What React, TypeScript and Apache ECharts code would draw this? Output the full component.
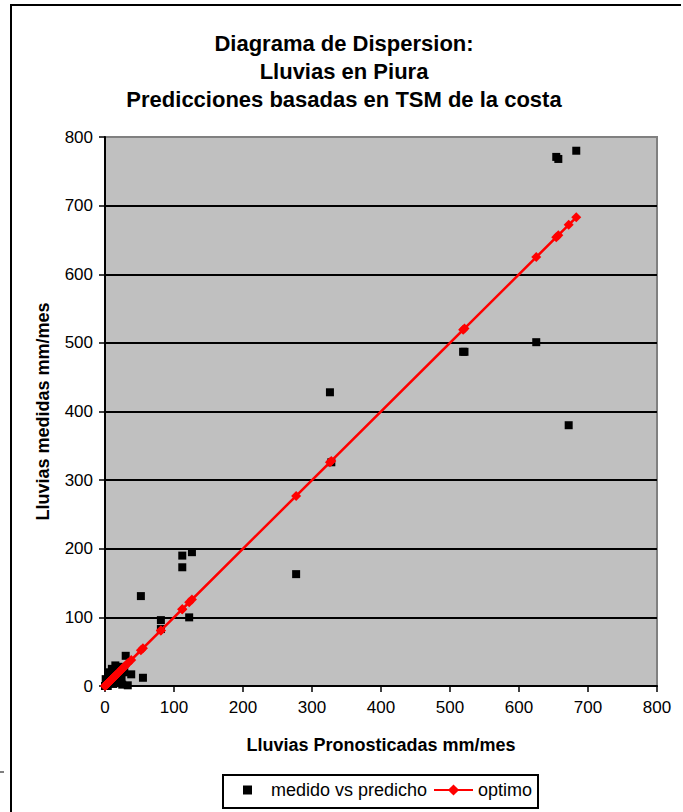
import React, { useEffect, useRef } from "react";
import * as echarts from "echarts";

// Lluvias pronosticadas (predicho) y medidas, en orden de los datos
const predicho: number[] = [
  2, 5, 8, 10, 0, 12, 15, 326, 18, 1, 20, 22, 3, 25, 28, 4, 30, 33, 6, 38,
  14, 52, 16, 55, 24, 81, 81, 112, 277, 519, 625, 654, 657, 683, 672, 112,
  122, 126, 328, 9, 13, 521,
];
const medido: number[] = [
  5, 20, 12, 25, 0, 3, 30, 428, 8, 10, 28, 15, 2, 2, 20, 0, 44, 1, 18, 17,
  22, 131, 5, 12, 10, 96, 83, 190, 163, 487, 501, 771, 768, 780, 380, 173,
  100, 195, 326, 14, 6, 487,
];

const xTicks = { min: 0, max: 800, interval: 100 };
const yTicks = { min: 0, max: 800, interval: 100 };

const tituloLineas = [
  "Diagrama de Dispersion:",
  "Lluvias en Piura",
  "Predicciones basadas en TSM de la costa",
];
const nombreX = "Lluvias Pronosticadas mm/mes";
const nombreY = "Lluvias medidas mm/mes";
const serieMedido = "medido vs predicho";
const serieOptimo = "optimo";

const FONT = "'Liberation Sans', Arial, Helvetica, sans-serif";

export default function App() {
  const ref = useRef<HTMLDivElement>(null);

  useEffect(() => {
    document.body.style.margin = "0";
    if (!ref.current) return;
    const chart = echarts.init(ref.current, undefined, { renderer: "svg" });

    const scatterData = predicho.map((p, i) => [p, medido[i]]);
    const optimoData = predicho.map((p) => [p, p]);

    const legendText = { fontFamily: FONT, fontSize: 18, color: "#000" };

    chart.setOption({
      animation: false,
      backgroundColor: "#ffffff",
      textStyle: { fontFamily: FONT },
      title: {
        text: tituloLineas.join("\n"),
        left: 339,
        top: 24,
        textAlign: "center",
        textStyle: {
          fontFamily: FONT,
          fontSize: 22,
          fontWeight: "bold",
          color: "#000",
          lineHeight: 28,
        },
      },
      grid: {
        left: 105,
        top: 137,
        width: 552,
        height: 549,
        show: true,
        backgroundColor: "#c0c0c0",
        borderColor: "#808080",
        borderWidth: 2,
      },
      xAxis: {
        type: "value",
        min: xTicks.min,
        max: xTicks.max,
        interval: xTicks.interval,
        name: nombreX,
        nameLocation: "middle",
        nameGap: 50,
        nameTextStyle: {
          fontFamily: FONT,
          fontSize: 18,
          fontWeight: "bold",
          color: "#000",
        },
        axisLine: { show: true, onZero: false, lineStyle: { color: "#000", width: 2 } },
        axisTick: { show: true, inside: false, length: 6, lineStyle: { color: "#000", width: 1.5 } },
        axisLabel: { fontFamily: FONT, fontSize: 17, color: "#000", margin: 13 },
        splitLine: { show: false },
      },
      yAxis: {
        type: "value",
        min: yTicks.min,
        max: yTicks.max,
        interval: yTicks.interval,
        name: nombreY,
        nameLocation: "middle",
        nameGap: 53,
        nameRotate: 90,
        nameTextStyle: {
          fontFamily: FONT,
          fontSize: 18,
          fontWeight: "bold",
          color: "#000",
        },
        axisLine: { show: true, onZero: false, lineStyle: { color: "#000", width: 2 } },
        axisTick: { show: true, inside: false, length: 6, lineStyle: { color: "#000", width: 1.5 } },
        axisLabel: { fontFamily: FONT, fontSize: 17, color: "#000", margin: 12 },
        splitLine: {
          show: true,
          lineStyle: {
            color: ["#000", "#000", "#000", "#000", "#000", "#000", "#000", "#000", "#808080"],
            width: 2,
          },
        },
      },
      legend: [
        {
          left: 243,
          top: 781,
          padding: 0,
          itemWidth: 9,
          itemHeight: 9,
          z: 5,
          textStyle: { ...legendText, padding: [0, 0, 0, 14] },
          data: [{ name: serieMedido, icon: "rect" }],
        },
        {
          left: 433,
          top: 781,
          padding: 0,
          itemWidth: 39,
          itemHeight: 14,
          z: 5,
          textStyle: legendText,
          data: [{ name: serieOptimo }],
        },
      ],
      series: [
        {
          name: serieMedido,
          type: "scatter",
          data: scatterData,
          symbol: "rect",
          symbolSize: 8,
          itemStyle: { color: "#000", opacity: 1 },
          z: 3,
        },
        {
          name: serieOptimo,
          type: "line",
          data: optimoData,
          symbol: "diamond",
          symbolSize: 10,
          showAllSymbol: true,
          lineStyle: { color: "#ff0000", width: 2.5 },
          itemStyle: { color: "#ff0000", borderWidth: 0 },
          z: 4,
        },
      ],
      graphic: [
        {
          type: "polyline",
          shape: { points: [[11, 812], [11, 5], [681, 5]] },
          style: { stroke: "#000", lineWidth: 2, fill: "none" },
          silent: true,
        },
        {
          type: "line",
          shape: { x1: 0, y1: 772, x2: 4, y2: 772 },
          style: { stroke: "#000", lineWidth: 1 },
          silent: true,
        },
        {
          type: "rect",
          z: 1,
          shape: { x: 223, y: 775, width: 315, height: 33 },
          style: { stroke: "#000", lineWidth: 2, fill: "#fff" },
          silent: true,
        },
      ],
    });

    return () => chart.dispose();
  }, []);

  return <div ref={ref} style={{ width: 683, height: 812 }} />;
}
